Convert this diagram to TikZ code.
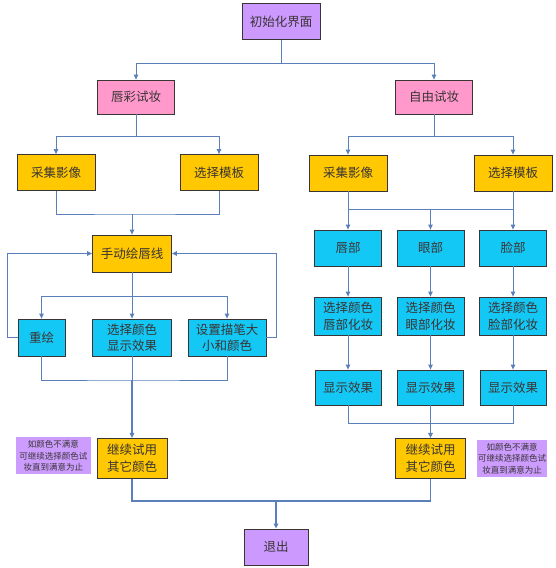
\documentclass[tikz,border=0pt]{standalone}
\usepackage{fontspec}
\newfontfamily\cjk{Noto Sans CJK SC}
\usetikzlibrary{arrows.meta,positioning}
\definecolor{start}{HTML}{CC99FF}
\definecolor{mode}{HTML}{FF99CC}
\definecolor{gold}{HTML}{FFC800}
\definecolor{sky}{HTML}{14C8F5}
\definecolor{hint}{HTML}{CC9CFF}
\definecolor{ink}{HTML}{3A3434}
\definecolor{wire}{HTML}{5B7FB8}
\tikzset{
  >=Latex,
  every node/.style={font=\cjk\fontsize{12.5}{16.5}\selectfont,text=ink},
  box/.style={draw=ink,line width=0.8pt,minimum width=78pt,minimum height=36pt,align=center,inner sep=1pt},
  startbox/.style={box,fill=start},
  modebox/.style={box,fill=mode,minimum width=77pt,minimum height=34pt},
  goldbox/.style={box,fill=gold},
  skybox/.style={box,fill=sky},
  partbox/.style={skybox,minimum width=67pt},
  notebox/.style={fill=hint,minimum width=75pt,minimum height=37pt,align=center,inner sep=1pt,font=\cjk\fontsize{8.5}{11.5}\selectfont},
  link/.style={draw=wire,line width=1pt},
  arrow/.style={link,-{Triangle[length=5pt,width=4.5pt]}},
  trunk/.style={arrow,line width=1.5pt},
}

\begin{document}
\begin{tikzpicture}[x=1pt,y=-1pt]
\path[fill=white] (0,0) rectangle (555,568);
% top
\node[startbox] (init) at (281,21.5) {初始化界面};
\node[modebox] (lipmode) at (136,97) {唇彩试妆};
\node[modebox] (freemode) at (434,97) {自由试妆};
\node[goldbox] (lcap) at (56,172.5) {采集影像};
\node[goldbox] (lsel) at (219,172.5) {选择模板};
\node[goldbox] (rcap) at (348,173) {采集影像};
\node[goldbox] (rsel) at (513,173) {选择模板};
% lip branch
\node[goldbox,minimum width=79pt,minimum height=37pt] (lhand) at (132,253.5) {手动绘唇线};
\node[skybox,minimum width=47pt,minimum height=37pt] (redraw) at (41.5,337.5) {重绘};
\node[skybox,minimum width=79pt,minimum height=37pt] (lshow) at (132,337.5) {选择颜色\\显示效果};
\node[skybox,minimum height=37pt] (pen) at (227,337.5) {设置描笔大\\小和颜色};
\node[goldbox,minimum width=70pt,minimum height=40pt] (lcont) at (132,458.3) {继续试用\\其它颜色};
\node[notebox,left=5.5pt of lcont,yshift=2.5pt] (lnote) {如颜色不满意\\可继续选择颜色试\\妆直到满意为止};
% free branch
\node[partbox] (pt-lip) at (348,248) {唇部};
\node[partbox] (pt-eye) at (430.5,248) {眼部};
\node[partbox] (pt-face) at (513,248) {脸部};
\node[partbox,minimum height=38pt] (sel-lip) at (348,316) {选择颜色\\唇部化妆};
\node[partbox,minimum height=38pt] (sel-eye) at (430.5,316) {选择颜色\\眼部化妆};
\node[partbox,minimum height=38pt] (sel-face) at (513,316) {选择颜色\\脸部化妆};
\node[partbox,minimum width=66pt,minimum height=35pt] (show-lip) at (348,387.5) {显示效果};
\node[partbox,minimum width=66pt,minimum height=35pt] (show-eye) at (430.5,387.5) {显示效果};
\node[partbox,minimum width=66pt,minimum height=35pt] (show-face) at (513,387.5) {显示效果};
\node[goldbox,minimum width=70pt,minimum height=40pt] (rcont) at (430.5,458.3) {继续试用\\其它颜色};
\node[notebox,minimum width=70pt,right=11pt of rcont] (rnote) {如颜色不满意\\可继续选择颜色试\\妆直到满意为止};
\node[startbox,minimum width=64pt,minimum height=36pt] (quit) at (276,547) {退出};
% joints
\coordinate (tj) at (281,63.3);
\coordinate (lj0) at (136,136.7);
\coordinate (rj0) at (434,136.7);
\coordinate (lj1) at (132,214);
\coordinate (lj2) at (132,296);
\coordinate (lj3) at (132,380);
\coordinate (rj1) at (430.5,209.3);
\coordinate (rj2) at (430.5,423.3);
\coordinate (bj) at (276,501);
% connectors
\draw[link] (init) -- (tj);
\draw[arrow] (tj) -| (lipmode);
\draw[arrow] (tj) -| (freemode);
\draw[link] (lipmode) -- (lj0);
\draw[arrow] (lj0) -| (lcap);
\draw[arrow] (lj0) -| (lsel);
\draw[link] (freemode) -- (rj0);
\draw[arrow] (rj0) -| (rcap);
\draw[arrow] (rj0) -| (rsel);
\draw[link] (lcap) |- (lj1) -| (lsel);
\draw[arrow] (lj1) -- (lhand);
\draw[link] (lhand) -- (lj2);
\draw[arrow] (lj2) -| (redraw);
\draw[arrow] (lj2) -- (lshow);
\draw[arrow] (lj2) -| (pen);
\draw[arrow] (redraw.west) -- ++(-10,0) |- (lhand);
\draw[arrow] (pen.east) -- ++(10.3,0) |- (lhand);
\draw[link] (redraw) |- (lj3) -| (pen);
\draw[link] (lshow) -- (lj3);
\draw[trunk] (lj3) -- (lcont);
\draw[link] (rcap) |- (rj1) -| (rsel);
\draw[arrow] (rj1 -| pt-lip) -- (pt-lip);
\draw[arrow] (rj1) -- (pt-eye);
\draw[arrow] (rj1 -| pt-face) -- (pt-face);
\foreach \p in {lip,eye,face}{
  \draw[arrow] (pt-\p) -- (sel-\p);
  \draw[arrow] (sel-\p) -- (show-\p);
}
\draw[link] (show-lip) |- (rj2) -| (show-face);
\draw[trunk] (show-eye) -- (rcont);
\draw[link,line width=1.5pt] (lcont) |- (bj) -| (rcont);
\draw[trunk] (bj) -- (quit);
\end{tikzpicture}
\end{document}
